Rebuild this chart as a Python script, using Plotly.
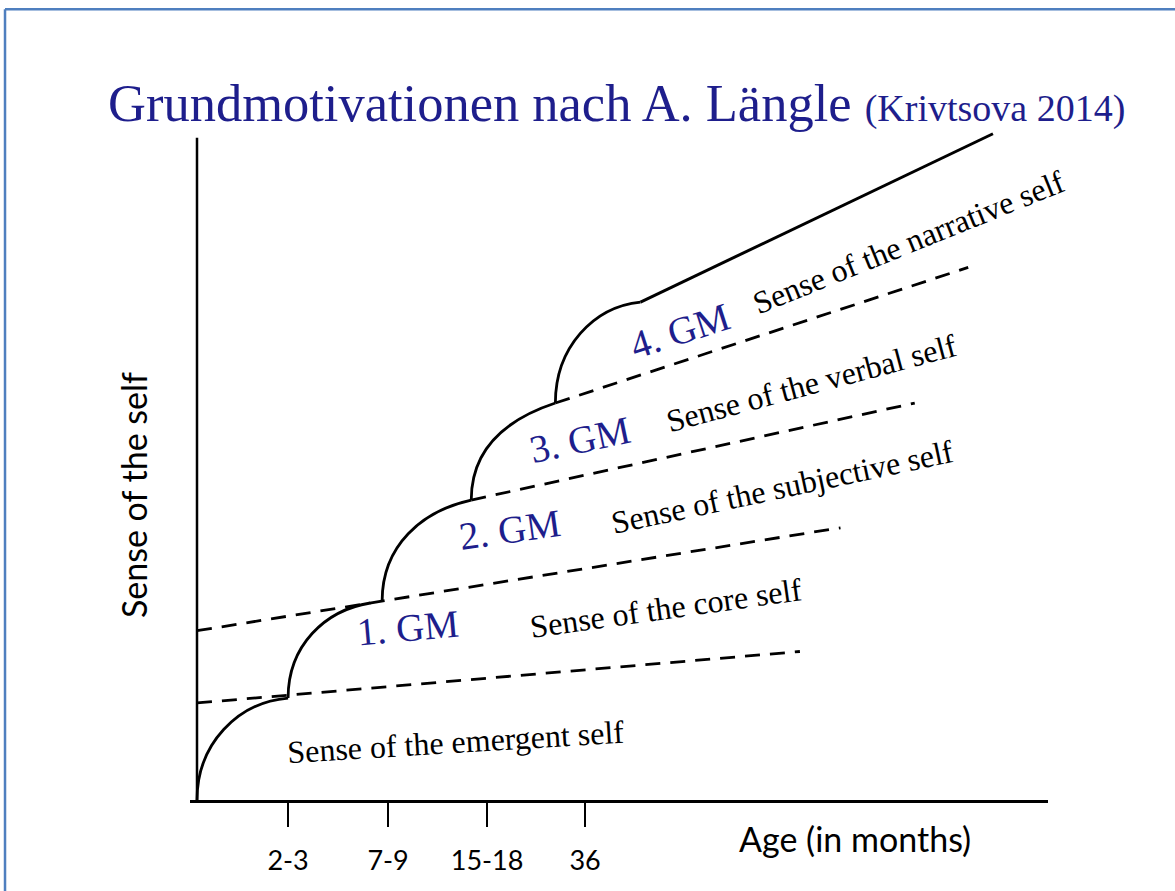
import plotly.graph_objects as go

# ---------------- data (diagram units: 1 unit ~ one developmental step) ----------------
tick_pos = [0.92, 1.93, 2.93, 3.92]
tick_labels = ["2-3", "7-9", "15-18", "36"]

# arcs: start node (vertical tangent) -> end node
arc_x0 = [0.00, 0.92, 1.87, 2.77, 3.62]
arc_y0 = [0.00, 1.03, 2.01, 3.03, 4.01]
arc_x1 = [0.92, 1.75, 2.77, 3.62, 4.48]
arc_y1 = [1.03, 1.99, 3.03, 4.01, 5.03]
arc_end_slope = [0.085, 0.16, 0.22, 0.33, 0.10]

# dashed boundaries between senses of self
dash_x0 = [0.00, 0.00, 2.77, 3.62]
dash_y0 = [0.98, 1.71, 3.03, 4.01]
dash_x1 = [6.09, 6.50, 7.25, 7.79]
dash_y1 = [1.50, 2.75, 4.01, 5.38]

# upper solid line
top_x = [4.48, 8.04]
top_y = [5.03, 6.73]

# y axis line
yaxis_x = [0.0, 0.0]
yaxis_y = [0.0, 6.69]

# region labels
sense_labels = ["Sense of the emergent self", "Sense of the core self", "Sense of the subjective self",
                "Sense of the verbal self", "Sense of the narrative self"]
sense_x = [2.61, 4.74, 5.91, 6.21, 7.19]
sense_y = [0.59, 1.94, 3.16, 4.21, 5.64]
sense_angle = [-3.5, -8, -12, -15, -22]

gm_labels = ["1. GM", "2. GM", "3. GM", "4. GM"]
gm_x = [2.13, 3.16, 3.87, 4.88]
gm_y = [1.74, 2.73, 3.64, 4.74]
gm_angle = [-5, -8, -12, -18]

NAVY = "#1e1e8c"
SERIF = "Liberation Serif, Times New Roman, serif"
SANS = "Lato, Liberation Sans, sans-serif"

fig = go.Figure()

# vertical axis
fig.add_trace(go.Scatter(x=yaxis_x, y=yaxis_y, mode="lines",
                         line=dict(color="black", width=2.5), hoverinfo="skip"))

# dashed boundaries
for i in range(len(dash_x0)):
    fig.add_trace(go.Scatter(x=[dash_x0[i], dash_x1[i]], y=[dash_y0[i], dash_y1[i]], mode="lines",
                             line=dict(color="black", width=2.8, dash="15px,10px"), hoverinfo="skip"))

# top solid line
fig.add_trace(go.Scatter(x=top_x, y=top_y, mode="lines",
                         line=dict(color="black", width=3), hoverinfo="skip"))

# arcs as bezier paths in data coordinates
k = 0.5523
shapes = []
for i in range(len(arc_x0)):
    x0, y0, x1, y1 = arc_x0[i], arc_y0[i], arc_x1[i], arc_y1[i]
    w, h = x1 - x0, y1 - y0
    s = arc_end_slope[i]
    c1 = (x0, y0 + k * h)
    c2 = (x1 - k * w, y1 - k * w * s)
    path = f"M {x0},{y0} C {c1[0]},{c1[1]} {c2[0]},{c2[1]} {x1},{y1}"
    shapes.append(dict(type="path", path=path, xref="x", yref="y",
                       line=dict(color="black", width=2.8)))

# decorative frame (top and left border)
shapes.append(dict(type="line", xref="paper", yref="paper", x0=-0.2156, x1=1.2, y0=1.163, y1=1.163,
                   line=dict(color="#4f7fbf", width=2.5)))
shapes.append(dict(type="line", xref="paper", yref="paper", x0=-0.2156, x1=-0.2156, y0=1.163, y1=-0.2,
                   line=dict(color="#4f7fbf", width=2.5)))

annotations = []
for t, x, y, a in zip(sense_labels, sense_x, sense_y, sense_angle):
    annotations.append(dict(text=t, x=x, y=y, xref="x", yref="y", showarrow=False, textangle=a,
                            font=dict(family=SERIF, size=32, color="black")))
for t, x, y, a in zip(gm_labels, gm_x, gm_y, gm_angle):
    annotations.append(dict(text=t, x=x, y=y, xref="x", yref="y", showarrow=False, textangle=a,
                            font=dict(family=SERIF, size=39, color=NAVY)))

annotations.append(dict(text="Sense of the self", x=-0.0664, y=0.4485, xref="paper", yref="paper",
                        xanchor="center", yanchor="middle",
                        showarrow=False, textangle=-90, font=dict(family=SANS, size=34, color="black")))
annotations.append(dict(text="Age (in months)", x=0.775, y=-0.0559, xref="paper", yref="paper",
                        xanchor="center", yanchor="middle",
                        showarrow=False, font=dict(family=SANS, size=34, color="black")))

fig.update_layout(
    width=1175, height=891,
    margin=dict(l=190, r=127, t=120, b=91, pad=0),
    paper_bgcolor="white", plot_bgcolor="white",
    showlegend=False, hovermode=False,
    title=dict(text="Grundmotivationen nach A. Längle <span style='font-size:38px'>(Krivtsova 2014)</span>",
               x=108 / 1175, xanchor="left", xref="container",
               y=1 - 103 / 891, yanchor="middle", yref="container",
               font=dict(family=SERIF, size=52.5, color=NAVY)),
    xaxis=dict(range=[-0.0707, 8.596], showgrid=False, zeroline=False,
               showline=True, linecolor="black", linewidth=2.5,
               ticks="outside", ticklen=24, tickwidth=2.5, tickcolor="black",
               tickvals=tick_pos, ticktext=tick_labels, ticklabelstandoff=11,
               tickfont=dict(family=SANS, size=27, color="black"), fixedrange=True),
    yaxis=dict(range=[0, 6.869], visible=False, fixedrange=True),
    shapes=shapes, annotations=annotations,
)

fig.write_html("out.html", config={"displayModeBar": False, "staticPlot": True},
               post_script="document.body.style.margin='0';document.body.style.overflow='hidden';")
